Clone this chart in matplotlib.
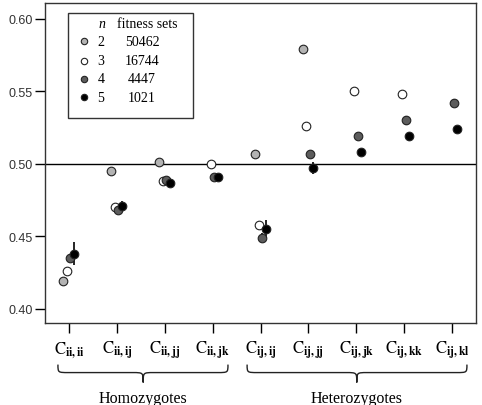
import numpy as np
import matplotlib
matplotlib.use('Agg')
import matplotlib.pyplot as plt
from matplotlib.path import Path
from matplotlib.patches import PathPatch, Rectangle
from matplotlib.lines import Line2D
import matplotlib.transforms as mtransforms

plt.rcParams['mathtext.fontset'] = 'stix'

# tick labels (subscripts of C)
subs = ['ii,ii', 'ii,ij', 'ii,jj', 'ii,jk', 'ij,ij', 'ij,jj', 'ij,jk', 'ij,kk', 'ij,kl']
n_alleles = [2, 3, 4, 5]
fitness_sets = [50462, 16744, 4447, 1021]

nan = np.nan
vals_n2 = [0.419, 0.495, 0.501, nan, 0.507, 0.579, nan, nan, nan]
vals_n3 = [0.426, 0.470, 0.488, 0.500, 0.458, 0.526, 0.550, 0.548, nan]
vals_n4 = [0.435, 0.468, 0.489, 0.491, 0.449, 0.507, 0.519, 0.530, 0.542]
vals_n5 = [0.438, 0.471, 0.487, 0.491, 0.455, 0.497, 0.508, 0.519, 0.524]
err_n4 = [0.003, 0.002, 0.002, 0.001, 0.003, 0.002, 0.002, 0.003, 0.003]
err_n5 = [0.008, 0.003, 0.003, 0.002, 0.006, 0.004, 0.002, 0.003, 0.002]

series = [vals_n2, vals_n3, vals_n4, vals_n5]
errs = [None, None, err_n4, err_n5]
colors = ['#b3b3b3', 'white', '#5c5c5c', 'black']
offsets = [-0.115, -0.04, 0.03, 0.105]

fig = plt.figure(figsize=(4.82, 4.06), dpi=100)
ax = fig.add_axes([0.0934, 0.202, 0.8942, 0.788])

x = np.arange(1, len(subs) + 1)
for v, e, c, off in zip(series, errs, colors, offsets):
    if e is not None:
        ax.errorbar(x + off, v, yerr=e, fmt='none', ecolor='black', elinewidth=1.2, capsize=0, zorder=2)
    ax.plot(x + off, v, 'o', ms=6.2, mfc=c, mec='#222222', mew=0.8, ls='none', zorder=3)

ax.axhline(0.5, color='black', lw=1, zorder=1)

ax.set_xlim(0.5, 9.5)
ax.set_ylim(0.39, 0.611)
ax.set_yticks([0.40, 0.45, 0.50, 0.55, 0.60])
ax.set_yticklabels(['0.40', '0.45', '0.50', '0.55', '0.60'], fontsize=9,
                   family='Liberation Sans', color='#333333')
ax.set_xticks(x)
ax.set_xticklabels([r'$\mathrm{C}_{\mathbf{%s}}$' % s for s in subs], fontsize=12)
ax.tick_params(axis='y', direction='out', length=7, width=1, pad=2)
ax.tick_params(axis='x', direction='out', length=7.5, width=1, pad=4)
for sp in ax.spines.values():
    sp.set_linewidth(1)
    sp.set_color('#333333')

# legend drawn by hand
ax.add_patch(Rectangle((0.053, 0.641), 0.29, 0.328, transform=ax.transAxes,
                       fill=False, ec='#333333', lw=1, zorder=4))
ax.text(0.132, 0.937, 'n', transform=ax.transAxes, ha='center', va='center',
        family='Liberation Serif', style='italic', fontsize=10)
ax.text(0.237, 0.937, 'fitness sets', transform=ax.transAxes, ha='center', va='center',
        family='Liberation Serif', fontsize=10)
rows = [0.881, 0.819, 0.763, 0.706]
for n, cnt, c, yy in zip(n_alleles, fitness_sets, colors, rows):
    ax.add_line(Line2D([0.0905], [yy], transform=ax.transAxes, marker='o', ms=4.6,
                       mfc=c, mec='#222222', mew=0.8, ls='none'))
    ax.text(0.130, yy, str(n), transform=ax.transAxes, ha='center', va='center',
            family='Liberation Serif', fontsize=10)
    ax.text(0.225, yy, str(cnt), transform=ax.transAxes, ha='center', va='center',
            family='Liberation Serif', fontsize=10)

# curly braces under the tick labels
trans = mtransforms.blended_transform_factory(ax.transData, ax.transAxes)


def brace(a, b, m, label):
    y0, y1, y2 = -0.13, -0.155, -0.186
    r = 0.22
    verts = [(a, y0), (a, y1), (a, y1), (a + r, y1),
             (m - r, y1), (m, y1), (m, y1), (m, y2),
             (m, y1), (m, y1), (m + r, y1),
             (b - r, y1), (b, y1), (b, y1), (b, y0)]
    codes = [Path.MOVETO, Path.CURVE4, Path.CURVE4, Path.CURVE4,
             Path.LINETO, Path.CURVE4, Path.CURVE4, Path.CURVE4,
             Path.CURVE4, Path.CURVE4, Path.CURVE4,
             Path.LINETO, Path.CURVE4, Path.CURVE4, Path.CURVE4]
    ax.add_patch(PathPatch(Path(verts, codes), transform=trans, fill=False,
                           lw=1, ec='#222222', clip_on=False))
    ax.text(m, -0.234, label, transform=trans, ha='center', va='center',
            family='Liberation Serif', fontsize=11.5)


brace(0.77, 4.32, 2.55, 'Homozygotes')
brace(4.72, 9.31, 7.01, 'Heterozygotes')

fig.savefig('out.png', dpi=100)
